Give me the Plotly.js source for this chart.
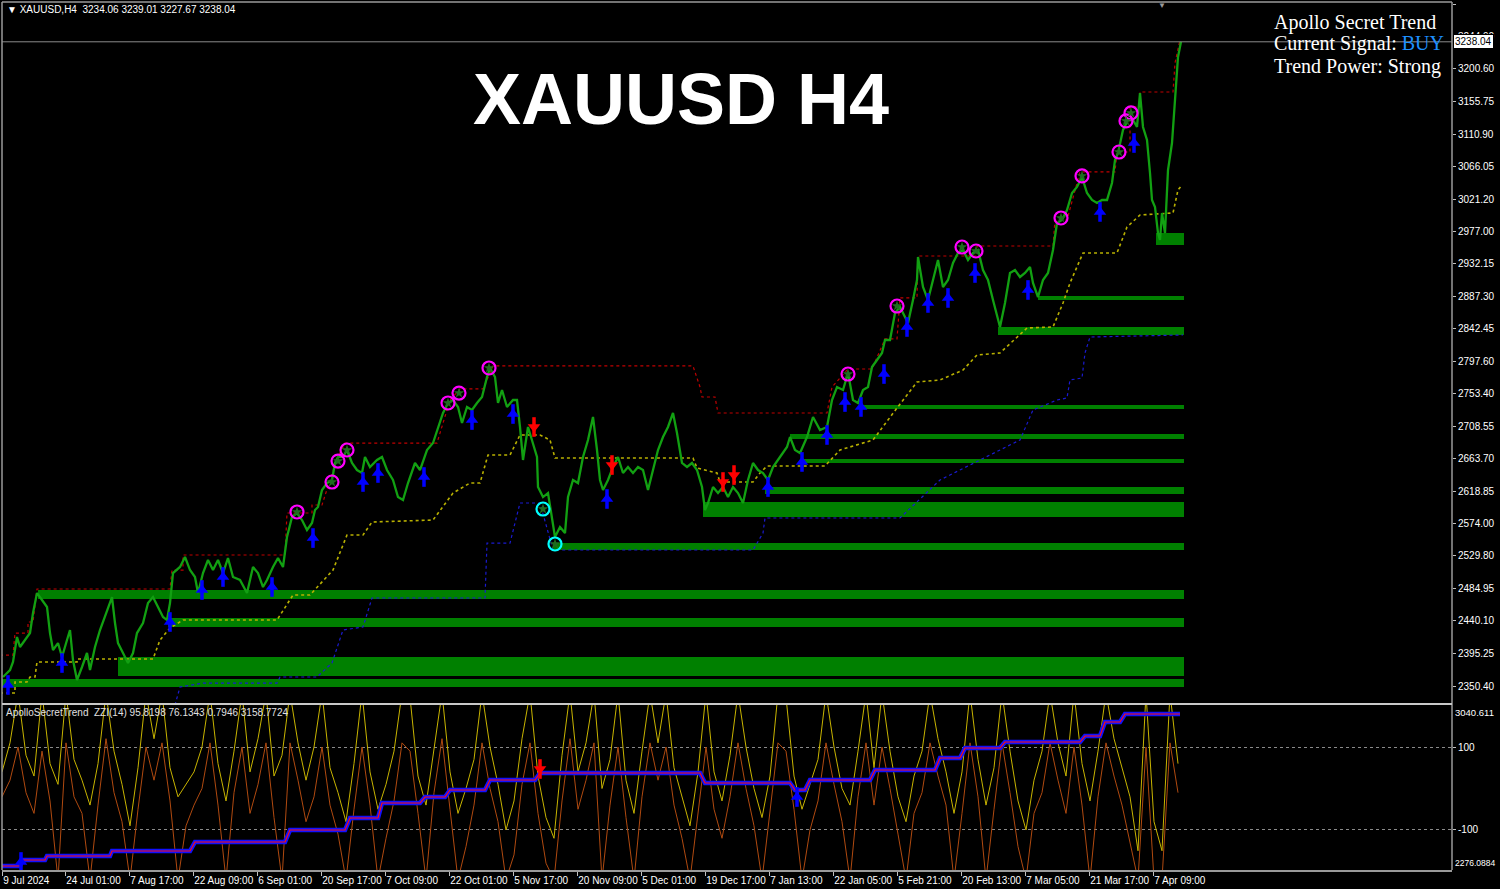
<!DOCTYPE html>
<html><head><meta charset="utf-8">
<script src="https://cdn.plot.ly/plotly-3.0.1.min.js"></script>
<style>html,body{margin:0;padding:0;background:#000;}#chart{width:1500px;height:889px;}</style>
</head><body><div id="chart"></div>
<script>
// ---------- header / info ----------
const symbolName = 'XAUUSD';
const timeframe = 'H4';
const ohlc = [3234.06, 3239.01, 3227.67, 3238.04];
const lastClose = 3238.04;
const indicatorName = 'ApolloSecretTrend';
const zziValues = [95.8198, 76.1343, 0.7946, 3158.7724];
const panelLines = ['Apollo Secret Trend', 'Current Signal: ', 'Trend Power: Strong'];
const currentSignal = 'BUY';

// ---------- time axis (bar index) ----------
const timeTicks = [2,65,129,193,257,321,385,449,513,577,641,705,769,833,897,961,1025,1089,1153];
const timeLabels = ['9 Jul 2024','24 Jul 01:00','7 Aug 17:00','22 Aug 09:00','6 Sep 01:00','20 Sep 17:00','7 Oct 09:00','22 Oct 01:00','5 Nov 17:00','20 Nov 09:00','5 Dec 01:00','19 Dec 17:00','7 Jan 13:00','22 Jan 05:00','5 Feb 21:00','20 Feb 13:00','7 Mar 05:00','21 Mar 17:00','7 Apr 09:00'];

// ---------- price axis ticks ----------
const priceTicks = [3289.65,3244.90,3200.60,3155.75,3110.90,3066.05,3021.20,2977.00,2932.15,2887.30,2842.45,2797.60,2753.40,2708.55,2663.70,2618.85,2574.00,2529.80,2484.95,2440.10,2395.25,2350.40];

// ---------- price series ----------
const priceBars = [3,10,13,17,20,25,30,33,37,42,47,50,53,58,62,67,70,73,77,82,87,90,95,100,105,112,115,118,123,128,133,137,143,148,153,158,163,167,170,173,180,185,190,195,198,203,208,213,218,223,228,233,240,247,253,258,263,267,273,278,283,287,292,297,302,307,312,315,318,322,327,332,335,338,343,347,352,357,362,365,370,377,382,387,393,398,403,408,415,420,427,433,438,443,448,453,458,462,467,472,477,482,487,490,495,498,502,507,513,517,520,523,528,532,537,538,543,548,552,555,560,565,568,573,578,583,588,593,597,600,603,608,613,618,623,628,633,638,643,648,653,658,663,668,673,677,682,687,692,697,702,705,708,713,718,723,728,733,738,743,748,753,758,763,768,773,780,787,790,795,800,807,813,820,827,832,837,843,848,853,858,863,868,872,877,882,885,890,895,900,905,908,913,917,918,923,928,933,938,943,948,953,958,963,968,973,978,983,988,993,998,1000,1005,1010,1015,1020,1025,1030,1033,1038,1043,1048,1053,1057,1062,1067,1072,1077,1082,1087,1092,1097,1102,1107,1112,1115,1118,1123,1128,1133,1137,1140,1143,1147,1150,1152,1155,1158,1160,1162,1165,1168,1172,1175,1178,1181];
const priceClose = [2362.8,2372.4,2383.5,2417.9,2404.1,2413.8,2423.4,2451.0,2478.5,2468.9,2459.3,2423.4,2400.0,2409.6,2390.4,2413.8,2427.6,2386.2,2358.7,2376.6,2395.9,2372.4,2404.1,2427.6,2445.5,2473.0,2437.2,2409.6,2395.9,2382.1,2395.9,2423.4,2437.2,2464.8,2473.0,2459.3,2445.5,2441.3,2464.8,2506.1,2514.4,2528.2,2510.2,2500.6,2478.5,2506.1,2524.0,2510.2,2524.0,2506.1,2526.8,2500.6,2496.5,2478.5,2514.4,2506.1,2486.8,2496.5,2514.4,2526.8,2514.4,2555.7,2583.3,2588.8,2579.1,2565.4,2575.0,2592.9,2597.1,2620.5,2630.1,2634.3,2657.7,2666.0,2666.0,2675.6,2657.7,2648.0,2643.9,2666.0,2652.2,2661.8,2666.0,2648.0,2634.3,2610.8,2606.7,2630.1,2657.7,2648.0,2675.6,2685.2,2707.3,2726.6,2740.4,2744.5,2734.9,2712.8,2734.9,2730.7,2740.4,2748.6,2776.2,2788.6,2776.2,2740.4,2758.3,2734.9,2744.5,2744.5,2707.3,2661.8,2707.3,2689.4,2666.0,2624.6,2610.8,2616.3,2579.1,2555.7,2569.5,2561.2,2610.8,2634.3,2630.1,2666.0,2689.4,2721.1,2675.6,2634.3,2620.5,2634.3,2652.2,2666.0,2643.9,2652.2,2643.9,2652.2,2648.0,2620.5,2648.0,2675.6,2693.5,2707.3,2726.6,2699.0,2657.7,2652.2,2657.7,2648.0,2624.6,2592.9,2602.6,2624.6,2616.3,2624.6,2610.8,2624.6,2616.3,2602.6,2634.3,2657.7,2648.0,2643.9,2634.3,2652.2,2666.0,2679.7,2693.5,2675.6,2671.5,2693.5,2721.1,2703.2,2707.3,2744.5,2762.4,2758.3,2781.7,2744.5,2740.4,2758.3,2762.4,2790.0,2799.6,2809.3,2827.2,2827.2,2864.4,2872.7,2858.9,2850.6,2882.3,2909.9,2941.6,2900.2,2882.3,2909.9,2937.4,2900.2,2909.9,2933.3,2947.1,2951.2,2937.4,2947.1,2951.2,2923.6,2909.9,2882.3,2854.7,2845.1,2878.2,2919.5,2923.6,2914.0,2919.5,2927.8,2905.7,2886.4,2909.9,2919.5,2951.2,2988.4,2992.5,3006.3,3029.7,3038.0,3051.8,3029.7,3020.1,3016.0,3020.1,3020.1,3043.5,3075.2,3084.9,3116.6,3130.3,3130.3,3120.7,3167.5,3120.7,3102.8,3057.3,3020.1,3010.5,2974.6,2965.0,3002.2,2974.6,3061.4,3098.6,3162.0,3217.2,3238.0];

// ---------- zones ----------
const zoneStart = [2,118,168,38,553,703,765,800,790,860,998,1038,1156];
const zoneTop = [2360.0,2390.4,2444.1,2482.7,2547.4,2603.9,2624.6,2663.2,2697.6,2737.6,2845.1,2887.8,2974.6];
const zoneBottom = [2349.0,2364.2,2431.7,2470.3,2537.8,2583.3,2615.0,2657.7,2690.7,2732.1,2834.1,2882.3,2958.1];
const zoneEnd = 1184;

// ---------- trailing lines ----------
const resBars = [0,13,15,28,28,33,37,170,172,183,183,285,287,312,312,322,330,338,345,437,450,460,483,493,693,700,702,715,718,827,832,848,872,885,897,900,917,918,977,977,1053,1055,1067,1080,1115,1117,1130,1130,1140,1140,1173,1175,1180];
const resLevel = [2393.1,2393.1,2423.4,2423.4,2438.6,2438.6,2484.1,2484.1,2510.2,2510.2,2530.9,2530.9,2588.8,2588.8,2599.8,2599.8,2634.3,2666.0,2685.2,2685.2,2744.5,2759.7,2759.7,2791.4,2791.4,2762.4,2748.6,2748.6,2726.6,2726.6,2762.4,2787.2,2787.2,2828.6,2828.6,2885.1,2885.1,2942.9,2942.9,2956.7,2956.7,2992.5,2992.5,3058.7,3058.7,3086.2,3086.2,3148.3,3148.3,3168.9,3168.9,3208.9,3240.6];
const supBars = [0,15,15,27,30,35,37,77,77,153,160,170,183,277,293,310,333,347,363,372,433,443,453,470,480,488,510,520,540,550,555,693,697,717,720,753,760,767,825,840,873,897,917,940,963,977,1000,1027,1053,1063,1070,1083,1117,1127,1140,1173,1178,1182];
const supLevel = [2340.7,2340.7,2355.9,2355.9,2362.8,2362.8,2383.5,2383.5,2387.6,2387.6,2413.8,2430.3,2441.3,2441.3,2475.8,2475.8,2510.2,2558.5,2558.5,2576.4,2579.1,2597.1,2616.3,2630.1,2630.1,2668.7,2668.7,2696.3,2696.3,2689.4,2664.6,2664.6,2650.8,2643.9,2631.5,2631.5,2643.9,2653.6,2653.6,2675.6,2689.4,2733.5,2769.3,2772.1,2785.8,2806.5,2809.3,2843.7,2845.1,2878.2,2905.7,2947.1,2947.1,2982.9,2999.4,3002.2,3033.9,3040.8];
const trailBars = [175,180,203,277,280,317,332,343,363,372,485,487,510,520,540,553,753,763,765,900,940,980,1020,1033,1057,1067,1070,1082,1085,1090,1183];
const trailLevel = [2324.2,2349.0,2354.5,2354.5,2362.8,2362.8,2382.1,2427.6,2431.7,2471.7,2471.7,2547.4,2547.4,2602.6,2602.6,2537.8,2537.8,2561.2,2581.9,2581.9,2634.3,2661.8,2689.4,2730.7,2744.5,2747.3,2772.1,2774.8,2809.3,2831.3,2834.1];

// ---------- signals ----------
const buyBars = [8,62,170,202,223,272,313,363,378,424,472,513,607,768,802,827,845,861,884,907,928,948,975,1028,1100,1134];
const buyPrice = [2351.8,2382.1,2438.6,2482.7,2500.6,2486.8,2554.3,2631.5,2643.9,2638.4,2716.9,2725.2,2608.1,2624.6,2659.1,2696.3,2741.7,2734.9,2780.3,2845.1,2878.2,2885.1,2919.5,2896.1,3003.6,3098.6];
const sellBars = [534,612,723,734];
const sellPrice = [2707.3,2654.9,2631.5,2641.1];
const tpBars = [297,332,338,347,448,459,489,848,897,962,976,1061,1082,1119,1126,1131];
const tpPrice = [2590.2,2631.5,2660.4,2675.6,2740.4,2754.1,2788.6,2780.3,2874.0,2955.3,2949.8,2995.3,3053.2,3086.2,3129.0,3140.0];
const slBars = [543,555];
const slPrice = [2594.3,2546.1];

// ---------- sub window ----------
const oscFirstBar = 2, oscStep = 8;
const oscFast = [40,110,230,80,30,230,60,10,230,70,
 20,-40,60,230,90,10,-90,50,230,120,
 230,50,-20,10,40,100,230,60,-30,90,
 230,40,120,230,30,80,230,110,20,100,
 230,50,-10,-80,60,230,40,-50,10,90,
 230,220,30,-40,100,230,40,-60,0,70,
 230,100,10,-100,-30,120,230,30,-70,-120,
 80,230,40,110,230,0,70,230,20,-60,
 90,230,110,230,50,-20,-90,40,230,40,
 -30,80,230,100,0,-70,30,230,220,30,
 -50,10,70,230,100,0,-40,90,230,50,
 230,90,-20,-80,30,90,230,120,40,-60,
 40,230,70,-40,50,230,90,-30,-100,20,
 90,230,110,30,230,60,-30,90,230,120,
 50,-20,-150,230,-80,-150,230,60];
const oscSlow = [-20,20,100,-10,-60,90,-30,-220,110,-20,
 -60,-220,-40,120,-10,-80,-220,-50,100,20,
 110,-30,-220,-90,-40,0,110,-40,-220,-10,
 100,-60,10,110,-70,-220,110,20,-80,-20,
 100,-40,-110,-220,-50,100,-40,-220,-120,-30,
 110,90,-60,-220,-10,120,-50,-220,-140,-40,
 110,0,-80,-220,-160,10,110,-60,-180,-220,
 -30,120,-50,20,110,-220,-40,100,-70,-220,
 -20,110,20,100,-40,-120,-220,-60,100,-50,
 -120,-20,110,0,-90,-220,-60,110,90,-50,
 -220,-100,-30,110,10,-80,-220,-20,110,-40,
 100,0,-110,-220,-60,-10,110,30,-40,-220,
 -60,110,-20,-220,-50,110,-10,-140,-220,-60,
 -10,110,20,-60,100,-40,-220,-20,110,30,
 -40,-130,-220,100,-220,-220,110,-10];
const oscLevels = [100, -100];
const subLineBars = [2,20,22,45,47,110,112,190,195,285,290,345,350,378,382,420,425,445,450,485,490,535,540,700,705,790,795,805,810,870,875,935,940,960,965,1000,1005,1080,1085,1100,1105,1120,1125,1180];
const subLineLevel = [2294.6,2294.6,2322.4,2322.4,2341.0,2341.0,2364.1,2364.1,2405.8,2405.8,2461.4,2461.4,2517.0,2517.0,2586.5,2586.5,2614.3,2614.3,2646.7,2646.7,2693.1,2693.1,2725.5,2725.5,2679.2,2679.2,2646.7,2646.7,2693.1,2693.1,2739.4,2739.4,2795.0,2795.0,2841.3,2841.3,2869.1,2869.1,2896.9,2896.9,2961.8,2961.8,2998.8,2998.8];
const subMax = 3040.611, subMin = 2276.0884;
const subBuyBars = [21, 797], subBuyLevel = [2313.2, 2614.3];
const subSellBars = [540], subSellLevel = [2744.0];

// ---------- build ----------
const oscBars = oscFast.map((_, i) => oscFirstBar + i * oscStep);
const px = x => (x - 2) / 1450;
const py = y => (870 - y) / 868;
const FONT = 'Liberation Sans, Arial, sans-serif';

function upArrow(xs, ys, color, ya) {
  return [
    {type:'scatter', mode:'markers', x:xs, y:ys, yaxis:ya, hoverinfo:'skip',
     marker:{symbol:'line-ns-open', size:14, color:color, line:{width:3.5, color:color}}},
    {type:'scatter', mode:'markers', x:xs, y:ys, yaxis:ya, hoverinfo:'skip',
     marker:{symbol:'triangle-up', size:11, color:color, line:{width:0}}}
  ];
}
function downArrow(xs, ys, color, ya) {
  return [
    {type:'scatter', mode:'markers', x:xs, y:ys, yaxis:ya, hoverinfo:'skip',
     marker:{symbol:'line-ns-open', size:14, color:color, line:{width:3.5, color:color}}},
    {type:'scatter', mode:'markers', x:xs, y:ys, yaxis:ya, hoverinfo:'skip',
     marker:{symbol:'triangle-down', size:11, color:color, line:{width:0}}}
  ];
}
function starRing(xs, ys, color) {
  return [
    {type:'scatter', mode:'markers', x:xs, y:ys, hoverinfo:'skip',
     marker:{symbol:'circle-open', size:13, color:color, line:{width:2.2}}},
    {type:'scatter', mode:'markers', x:xs, y:ys, hoverinfo:'skip',
     marker:{symbol:'star', size:8, color:'#1f6a1f', line:{width:0}}}
  ];
}

const traces = [
  {type:'scatter', mode:'lines', x:oscBars, y:oscSlow, yaxis:'y3', hoverinfo:'skip',
   line:{color:'#b04a10', width:1}},
  {type:'scatter', mode:'lines', x:oscBars, y:oscFast, yaxis:'y3', hoverinfo:'skip',
   line:{color:'#c8b400', width:1}},
  {type:'scatter', mode:'lines', x:subLineBars, y:subLineLevel, yaxis:'y4', hoverinfo:'skip',
   line:{color:'#1010ff', width:4.5}},
  {type:'scatter', mode:'lines', x:subLineBars, y:subLineLevel, yaxis:'y4', hoverinfo:'skip',
   line:{color:'#ff1010', width:1.2}},
  ...upArrow(subBuyBars, subBuyLevel, '#0000ff', 'y4'),
  ...downArrow(subSellBars, subSellLevel, '#ff0000', 'y4'),

  {type:'scatter', mode:'lines', x:trailBars, y:trailLevel, hoverinfo:'skip',
   line:{color:'#1a1ad0', width:1.2, dash:'dot'}},
  {type:'scatter', mode:'lines', x:supBars, y:supLevel, hoverinfo:'skip',
   line:{color:'#b8b000', width:1.6, dash:'dot'}},
  {type:'scatter', mode:'lines', x:resBars, y:resLevel, hoverinfo:'skip',
   line:{color:'#c00000', width:1.2, dash:'dot'}},
  {type:'scatter', mode:'lines', x:priceBars, y:priceClose, hoverinfo:'skip',
   line:{color:'#12a012', width:2.3}},
  ...upArrow(buyBars, buyPrice, '#0000ff', 'y'),
  ...downArrow(sellBars, sellPrice, '#ff0000', 'y'),
  ...starRing(tpBars, tpPrice, '#ff00ff'),
  ...starRing(slBars, slPrice, '#00ffff')
];

const shapes = zoneStart.map((s, i) => ({
  type:'rect', xref:'x', yref:'y', x0:s, x1:zoneEnd, y0:zoneBottom[i], y1:zoneTop[i],
  fillcolor:'#008000', line:{width:0}, layer:'below'
}));
shapes.push(
  {type:'line', xref:'paper', yref:'y', x0:0, x1:1, y0:lastClose, y1:lastClose, line:{color:'#8a8a8a', width:1}},
  {type:'line', xref:'paper', yref:'paper', x0:0, x1:0, y0:0, y1:1, line:{color:'#9a9a9a', width:1.5}},
  {type:'line', xref:'paper', yref:'paper', x0:0, x1:1, y0:1, y1:1, line:{color:'#9a9a9a', width:1.5}},
  {type:'line', xref:'paper', yref:'paper', x0:1, x1:1, y0:0, y1:1, line:{color:'#9a9a9a', width:1.5}},
  {type:'line', xref:'paper', yref:'paper', x0:0, x1:1, y0:py(704), y1:py(704), line:{color:'#c8c8c8', width:2}}
);

const white = '#ffffff';
const annotations = [
  {xref:'paper', yref:'paper', x:px(5), y:py(10), xanchor:'left', yanchor:'middle', showarrow:false,
   text:'\u25BC\u00a0' + symbolName + ',' + timeframe + '\u00a0\u00a0' + ohlc.map(v => v.toFixed(2)).join(' '),
   font:{family:FONT, size:10, color:white}},
  {xref:'paper', yref:'paper', x:px(681), y:py(99), xanchor:'center', yanchor:'middle', showarrow:false,
   text:symbolName + ' ' + timeframe, font:{family:FONT, size:72, color:white, weight:'bold'}},
  {xref:'paper', yref:'paper', x:px(1272), y:py(23), xanchor:'left', yanchor:'middle', showarrow:false,
   text:panelLines[0], font:{family:'Liberation Serif, Times New Roman, serif', size:20, color:white}},
  {xref:'paper', yref:'paper', x:px(1272), y:py(44), xanchor:'left', yanchor:'middle', showarrow:false,
   text:panelLines[1] + '<span style="color:#1e90ff">' + currentSignal + '</span>',
   font:{family:'Liberation Serif, Times New Roman, serif', size:20, color:white}},
  {xref:'paper', yref:'paper', x:px(1272), y:py(66), xanchor:'left', yanchor:'middle', showarrow:false,
   text:panelLines[2], font:{family:'Liberation Serif, Times New Roman, serif', size:20, color:white}},
  {xref:'paper', yref:'paper', x:px(4), y:py(712), xanchor:'left', yanchor:'middle', showarrow:false,
   text:indicatorName + '\u00a0\u00a0ZZI(14) ' + zziValues.join(' '),
   font:{family:FONT, size:10, color:'#e0e0e0'}},
  {xref:'paper', yref:'y', x:1 + 1/1450, y:lastClose, xanchor:'left', yanchor:'middle', showarrow:false,
   text:lastClose.toFixed(2), bgcolor:'#ffffff', bordercolor:'#000000', borderwidth:1, borderpad:1,
   font:{family:FONT, size:10, color:'#000000'}},
  {xref:'paper', yref:'y4', x:1 + 1/1450, y:subMax, xanchor:'left', yanchor:'top', showarrow:false,
   text:subMax.toFixed(3), font:{family:FONT, size:9.5, color:white}},
  {xref:'paper', yref:'y4', x:1 + 1/1450, y:subMin, xanchor:'left', yanchor:'bottom', showarrow:false,
   text:subMin.toFixed(4), font:{family:FONT, size:8.5, color:white}},
  {xref:'x', yref:'paper', x:1162, y:py(5), xanchor:'center', yanchor:'middle', showarrow:false,
   text:'\u25BC', font:{family:FONT, size:8, color:'#9a9a9a'}}
];

const tickFont = {family:FONT, size:10, color:white};
const layout = {
  width:1500, height:889,
  margin:{l:2, r:48, t:2, b:19, pad:0},
  paper_bgcolor:'#000000', plot_bgcolor:'#000000',
  showlegend:false,
  xaxis:{domain:[0,1], range:[2,1452], anchor:'y3', tickvals:timeTicks, ticktext:timeLabels,
         ticklabelposition:'outside right', tickangle:0, ticks:'outside', ticklen:4, tickcolor:'#c0c0c0',
         tickfont:tickFont, showgrid:false, zeroline:false, showline:true, linecolor:'#9a9a9a', linewidth:1.5,
         fixedrange:true},
  yaxis:{domain:[py(703),1], range:[2327.0,3292.9], anchor:'x', side:'right',
         tickvals:priceTicks, ticktext:priceTicks.map(v => v.toFixed(2)),
         ticks:'outside', ticklen:3, tickcolor:'#c0c0c0', tickfont:tickFont,
         showgrid:false, zeroline:false, showline:false},
  yaxis3:{domain:[0,py(705)], range:[-196.4,201.2], anchor:'x', side:'right',
          tickvals:oscLevels, ticktext:oscLevels.map(String),
          ticks:'outside', ticklen:3, tickcolor:'#c0c0c0', tickfont:tickFont,
          showgrid:true, gridcolor:'#8a8a8a', griddash:'dot', gridwidth:1, zeroline:false, showline:false},
  yaxis4:{overlaying:'y3', anchor:'x', side:'right', range:[subMin, subMax], visible:false},
  shapes:shapes,
  annotations:annotations
};

Plotly.newPlot('chart', traces, layout, {staticPlot:true, displayModeBar:false});
</script>
</body></html>
